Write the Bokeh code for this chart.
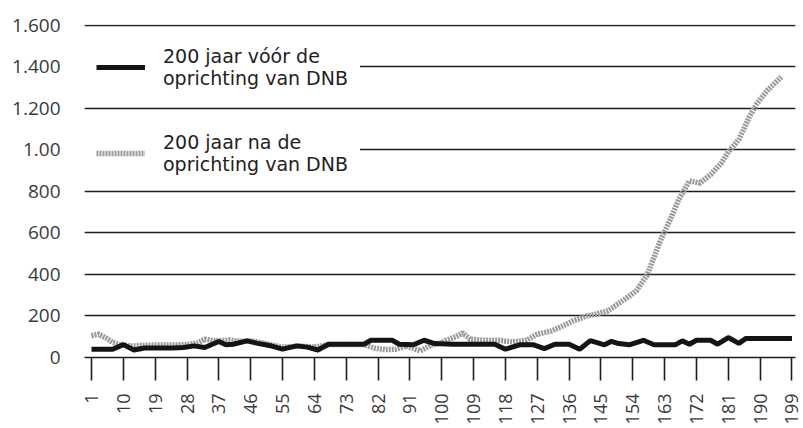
from bokeh.plotting import figure
from bokeh.models import FixedTicker, Legend, LegendItem, Range1d
from bokeh.embed import file_html
from bokeh.resources import INLINE

# 200 jaar vóór de oprichting van DNB
before_x = [1, 4, 7, 10, 13, 16, 20, 24, 27, 30, 33, 37, 39, 41, 45, 48, 52, 55, 59, 62,
            65, 68, 72, 78, 80, 86, 88, 92, 95, 98, 103, 115, 118, 122, 126, 129, 132, 136, 139, 142,
            146, 148, 150, 153, 157, 160, 166, 168, 170, 172, 176, 178, 181, 184, 186, 199]
before_y = [40, 40, 40, 62, 36, 46, 46, 46, 48, 56, 48, 77, 61, 64, 80, 68, 55, 40, 56, 50,
            36, 64, 64, 64, 83, 83, 64, 61, 83, 67, 64, 64, 40, 61, 61, 43, 64, 64, 40, 81,
            61, 78, 67, 61, 83, 61, 61, 80, 64, 83, 83, 64, 96, 68, 92, 92]

# 200 jaar na de oprichting van DNB
after_x = [1, 3, 5, 7, 9, 12, 15, 19, 24, 28, 31, 33, 36, 40, 43, 46, 50, 55, 60, 64,
           68, 73, 78, 81, 84, 87, 90, 94, 97, 100, 101, 104, 106, 108, 112, 116, 120, 124, 127, 131,
           134, 137, 141, 144, 147, 150, 153, 155, 158, 160, 162, 165, 167, 169, 170, 173, 176, 179, 181, 184,
           187, 189, 192, 196]
after_y = [105, 112, 95, 72, 62, 55, 58, 60, 60, 62, 70, 88, 80, 84, 78, 80, 68, 50, 55, 50,
           62, 62, 62, 45, 38, 40, 55, 32, 60, 70, 81, 100, 118, 88, 83, 83, 75, 83, 112, 128,
           150, 175, 200, 210, 225, 260, 295, 321, 395, 482, 570, 680, 760, 820, 850, 840, 880, 935, 990, 1050,
           1160, 1220, 1285, 1350]

y_ticks = [0, 200, 400, 600, 800, 1000, 1200, 1400, 1600]
y_tick_labels = ["0", "200", "400", "600", "800", "1.00", "1.200", "1.400", "1.600"]
x_ticks = list(range(1, 200, 9))

label_before = "200 jaar vóór de\noprichting van DNB"
label_after = "200 jaar na de\noprichting van DNB"

p = figure(width=803, height=428, output_backend="svg", toolbar_location=None,
           x_range=Range1d(-0.98, 200), y_range=Range1d(0, 1603),
           min_border_left=84, min_border_right=8, min_border_top=24, min_border_bottom=71)
p.outline_line_color = None
p.background_fill_color = "white"
p.border_fill_color = "white"

r_after = p.line(after_x, after_y, line_color="#9a9a9a", line_width=5.5, line_dash="2 1")
r_before = p.line(before_x, before_y, line_color="#141414", line_width=5)

# grids
p.xgrid.visible = False
p.ygrid.ticker = FixedTicker(ticks=y_ticks)
p.ygrid.grid_line_color = "#1e1e1e"
p.ygrid.grid_line_width = 1.6

# y axis
p.yaxis.ticker = FixedTicker(ticks=y_ticks)
p.yaxis.major_label_overrides = {t: l for t, l in zip(y_ticks, y_tick_labels)}
p.yaxis.axis_line_alpha = 0
p.yaxis.major_tick_out = 0
p.yaxis.major_tick_in = 0
p.yaxis.minor_tick_out = 0
p.yaxis.minor_tick_in = 0
p.yaxis.major_label_standoff = 24
p.yaxis.major_label_text_font = "Open Sans"
p.yaxis.major_label_text_font_size = "19px"
p.yaxis.major_label_text_color = "#3a3a3a"

# x axis
p.xaxis.ticker = FixedTicker(ticks=x_ticks)
p.xaxis.axis_line_color = "#1e1e1e"
p.xaxis.axis_line_width = 1.6
p.xaxis.major_tick_line_color = "#1e1e1e"
p.xaxis.major_tick_line_width = 1.6
p.xaxis.major_tick_out = 23
p.xaxis.major_tick_in = 0
p.xaxis.minor_tick_out = 0
p.xaxis.minor_tick_in = 0
p.xaxis.major_label_orientation = 3.14159265 / 2
p.xaxis.major_label_standoff = 13
p.xaxis.major_label_text_font = "Open Sans"
p.xaxis.major_label_text_font_size = "18px"
p.xaxis.major_label_text_color = "#3a3a3a"

leg1 = Legend(items=[LegendItem(label=label_before, renderers=[r_before])], location=(0, 256))
leg2 = Legend(items=[LegendItem(label=label_after, renderers=[r_after])], location=(0, 170))
for lg in (leg1, leg2):
    lg.background_fill_color = "white"
    lg.background_fill_alpha = 1
    lg.border_line_alpha = 0
    lg.glyph_width = 49
    lg.glyph_height = 20
    lg.label_standoff = 18
    lg.padding = 12
    lg.margin = 0
    lg.label_text_font = "DejaVu Sans"
    lg.label_text_font_size = "19px"
    lg.label_text_color = "#222222"
    lg.label_text_line_height = 1.37
    p.add_layout(lg, "center")

open("out.html", "w").write(file_html(p, INLINE))
